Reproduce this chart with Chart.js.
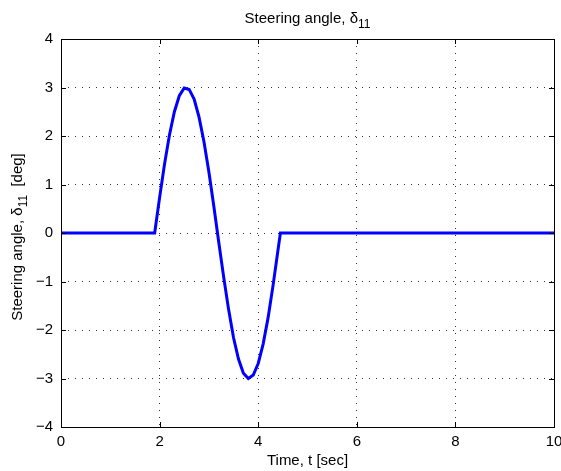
<!DOCTYPE html>
<html><head><meta charset="utf-8">
<script src="https://cdn.jsdelivr.net/npm/chart.js@4/dist/chart.umd.min.js"></script>
<style>html,body{margin:0;padding:0;background:#fff}#wrap{width:561px;height:471px}</style>
</head><body><div id="wrap"><canvas id="c" width="561" height="471"></canvas></div>
<script>
const timeValues = [0, 1.9, 2.0, 2.1, 2.2, 2.3, 2.4, 2.5, 2.6, 2.7, 2.8, 2.9, 3.0, 3.1, 3.2, 3.3, 3.4, 3.5, 3.6, 3.7, 3.8, 3.9, 4.0, 4.1, 4.2, 4.3, 4.45, 10];
const steeringValues = [0, 0, 0.73, 1.42, 2.02, 2.50, 2.83, 2.99, 2.96, 2.76, 2.39, 1.88, 1.26, 0.55, -0.19, -0.91, -1.58, -2.16, -2.60, -2.89, -3.0, -2.93, -2.69, -2.29, -1.75, -1.09, 0, 0];
const xTicks = [0, 2, 4, 6, 8, 10];
const yTicks = [-4, -3, -2, -1, 0, 1, 2, 3, 4];
const titleMain = 'Steering angle, \u03b4';
const titleSub = '11';
const xLabel = 'Time, t [sec]';
const yLabelMain = 'Steering angle, \u03b4';
const yLabelSub = '11';
const yLabelEnd = '  [deg]';

const FONT = '"Liberation Sans", Arial, Helvetica, sans-serif';
const FS = 15;
const pts = timeValues.map((t, i) => ({x: t, y: steeringValues[i]}));

function drawSubText(ctx, parts, x, y, size) {
  let total = 0;
  const widths = parts.map(p => {
    ctx.font = (p[1] ? size - 3 : size) + 'px ' + FONT;
    const w = ctx.measureText(p[0]).width; total += w; return w;
  });
  let cx = x - total / 2;
  parts.forEach((p, i) => {
    ctx.font = (p[1] ? size - 3 : size) + 'px ' + FONT;
    ctx.fillText(p[0], cx, y + (p[1] ? 5 : 0));
    cx += widths[i];
  });
}

const decor = {
  id: 'decor',
  afterDraw(chart) {
    const {ctx, chartArea: a, scales} = chart;
    ctx.save();
    ctx.strokeStyle = '#000'; ctx.lineWidth = 1;
    ctx.strokeRect(Math.round(a.left) + 0.5, Math.round(a.top) + 0.5, Math.round(a.right - a.left), Math.round(a.bottom - a.top));
    ctx.beginPath();
    xTicks.forEach(v => {
      const px = Math.round(scales.x.getPixelForValue(v)) + 0.5;
      ctx.moveTo(px, a.bottom); ctx.lineTo(px, a.bottom - 5);
      ctx.moveTo(px, a.top); ctx.lineTo(px, a.top + 5);
    });
    yTicks.forEach(v => {
      const py = Math.round(scales.y.getPixelForValue(v)) + 0.5;
      ctx.moveTo(a.left, py); ctx.lineTo(a.left + 5, py);
      ctx.moveTo(a.right, py); ctx.lineTo(a.right - 5, py);
    });
    ctx.stroke();
    ctx.fillStyle = '#000';
    ctx.textBaseline = 'alphabetic'; ctx.textAlign = 'left';
    const cx = (a.left + a.right) / 2;
    drawSubText(ctx, [[titleMain, false], [titleSub, true]], cx, 23, FS);
    ctx.font = FS + 'px ' + FONT; ctx.textAlign = 'center';
    ctx.fillText(xLabel, cx, 465);
    ctx.textAlign = 'left';
    ctx.translate(22, (a.top + a.bottom) / 2 + 4);
    ctx.rotate(-Math.PI / 2);
    drawSubText(ctx, [[yLabelMain, false], [yLabelSub, true], [yLabelEnd, false]], 0, 0, FS);
    ctx.restore();
  }
};

new Chart(document.getElementById('c'), {
  type: 'line',
  data: { datasets: [{ data: pts, borderColor: '#0000ff', borderWidth: 3, pointRadius: 0, tension: 0, fill: false }] },
  options: {
    responsive: false, animation: false, devicePixelRatio: 1,
    layout: { padding: { top: 39, right: 0, left: 0, bottom: 0 } },
    plugins: { legend: { display: false }, tooltip: { enabled: false } },
    scales: {
      x: {
        type: 'linear', min: 0, max: 10,
        afterBuildTicks: s => { s.ticks = xTicks.map(v => ({value: v})); },
        afterFit: s => { s.height = 44; s.paddingRight = 7; s.paddingLeft = 0; },
        grid: { color: '#333', drawTicks: false, lineWidth: 1 },
        border: { display: false, dash: [1, 6] },
        ticks: { color: '#000', font: { family: FONT, size: FS }, padding: 6, maxRotation: 0, callback: v => String(v) }
      },
      y: {
        min: -4, max: 4,
        afterBuildTicks: s => { s.ticks = yTicks.map(v => ({value: v})); },
        afterFit: s => { s.width = 61; s.paddingTop = 0; s.paddingBottom = 0; },
        grid: { color: '#333', drawTicks: false, lineWidth: 1 },
        border: { display: false, dash: [1, 6] },
        ticks: { color: '#000', font: { family: FONT, size: FS }, padding: 8, callback: v => v < 0 ? '\u2212' + Math.abs(v) : String(v) }
      }
    }
  },
  plugins: [decor]
});
</script></body></html>
